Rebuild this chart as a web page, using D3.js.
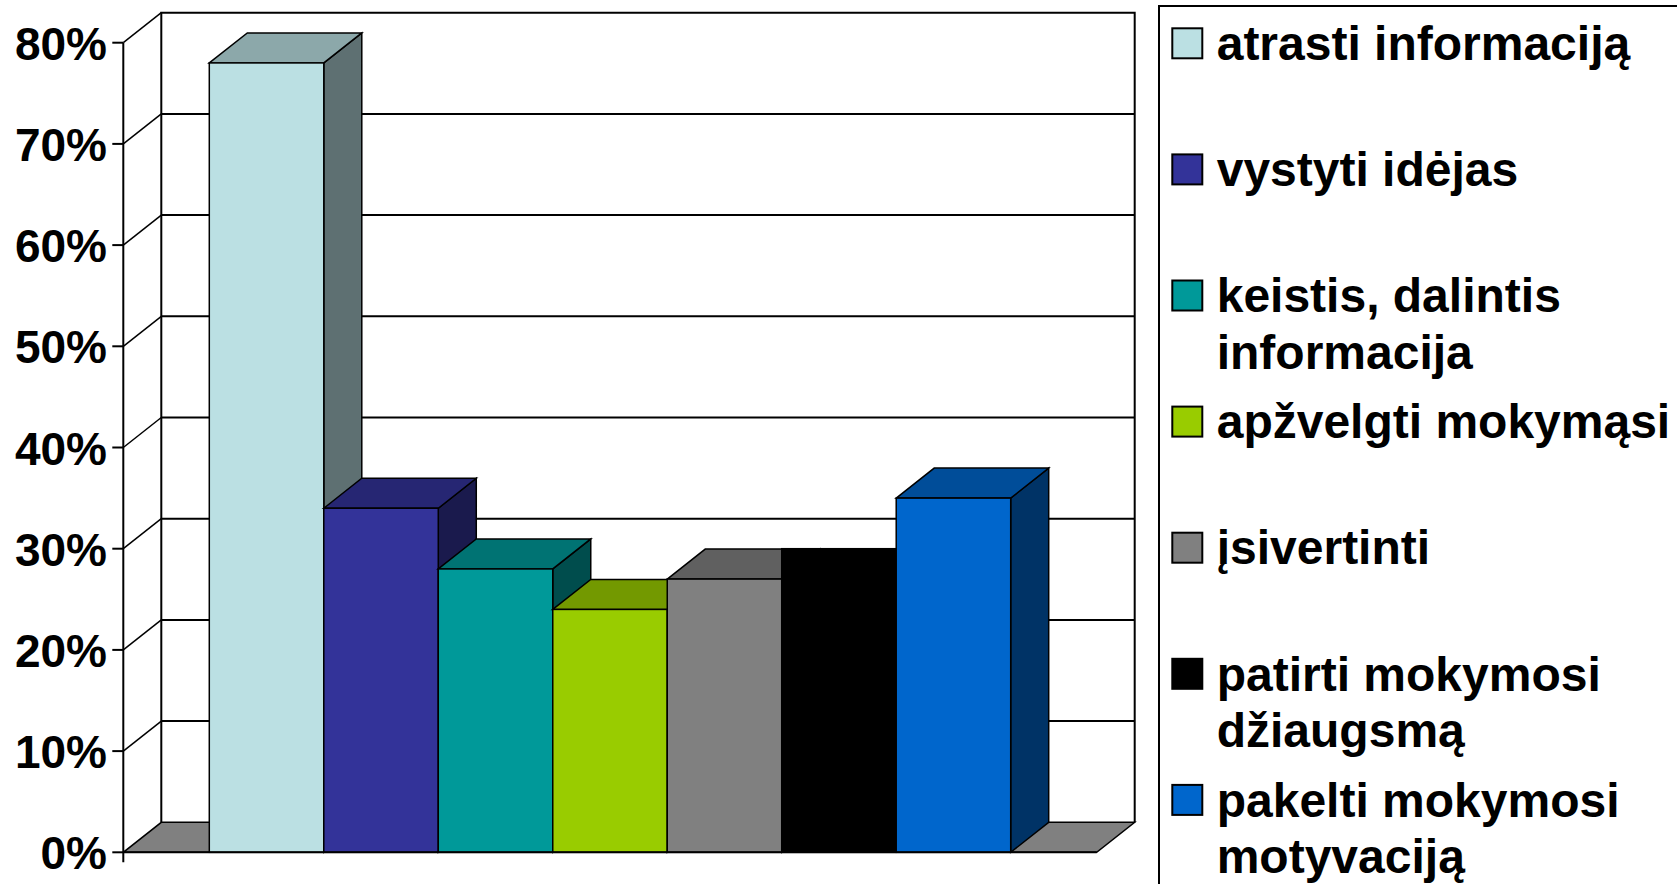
<!DOCTYPE html>
<html lang="lt">
<head>
<meta charset="utf-8">
<title>3D stulpelinė diagrama</title>
<style>
    html, body { margin: 0; padding: 0; background: #fff; }
    svg { display: block; }
    .lbl { font-family: "Liberation Sans", Arial, sans-serif; font-weight: bold; font-size: 46px; fill: #000; }
    .leg { font-size: 48px; }
</style>
</head>
<body>
<div id="chart"></div>
<script src="https://d3js.org/d3.v7.min.js"></script>
<script>
// data
var series = ["atrasti informaciją", "vystyti idėjas", "keistis, dalintis informacija",
              "apžvelgti mokymąsi", "įsivertinti", "patirti mokymosi džiaugsmą",
              "pakelti mokymosi motyvaciją"];
var legendLines = [["atrasti informaciją"], ["vystyti idėjas"], ["keistis, dalintis", "informacija"],
                   ["apžvelgti mokymąsi"], ["įsivertinti"], ["patirti mokymosi", "džiaugsmą"],
                   ["pakelti mokymosi", "motyvaciją"]];
var values = [0.78, 0.34, 0.28, 0.24, 0.27, 0.30, 0.35];
var colors = ["#BBE0E3", "#333399", "#009999", "#99CC00", "#808080", "#000000", "#0066CC"];
var ticks = [0, 0.1, 0.2, 0.3, 0.4, 0.5, 0.6, 0.7, 0.8];

var W = 1677, H = 884;
var front = {left: 123.3, right: 1096.7, bottom: 852.3, top: 42.7};
var dx = 38, dy = -30; // depth offset

var y = d3.scaleLinear().domain([0, 0.8]).range([front.bottom, front.top]);
var x = d3.scaleBand().domain(series).range([209.3, 1010.7]).padding(0);

var svg = d3.select("#chart").append("svg").attr("width", W).attr("height", H);

function shade(c, k) {
    var r = d3.rgb(c);
    return d3.rgb(r.r * k, r.g * k, r.b * k).formatHex();
}
function pts(a) { return a.map(function(p){ return p.join(","); }).join(" "); }

// back wall
var back = svg.append("g");
back.selectAll("line.grid")
    .data(ticks.slice(1, -1))
    .enter().append("line")
    .attr("x1", front.left + dx).attr("x2", front.right + dx)
    .attr("y1", function(d){ return y(d) + dy; })
    .attr("y2", function(d){ return y(d) + dy; })
    .attr("stroke", "#000").attr("stroke-width", 2);
back.append("polyline")
    .attr("points", pts([[front.left + dx, y(0) + dy], [front.left + dx, y(0.8) + dy],
                         [front.right + dx, y(0.8) + dy], [front.right + dx, y(0) + dy]]))
    .attr("fill", "none").attr("stroke", "#000").attr("stroke-width", 2);

// left side wall diagonals
back.selectAll("line.diag")
    .data(ticks.slice(1))
    .enter().append("line")
    .attr("x1", front.left).attr("x2", front.left + dx)
    .attr("y1", function(d){ return y(d); })
    .attr("y2", function(d){ return y(d) + dy; })
    .attr("stroke", "#000").attr("stroke-width", 1.5);

// floor
svg.append("polygon")
    .attr("points", pts([[front.left, y(0)], [front.right, y(0)],
                         [front.right + dx, y(0) + dy], [front.left + dx, y(0) + dy]]))
    .attr("fill", "#808080").attr("stroke", "#000").attr("stroke-width", 1.5);

// bars
var bars = svg.append("g");
series.forEach(function(s, i) {
    var x0 = x(s), x1 = x(s) + x.bandwidth(), yt = y(values[i]), yb = y(0);
    var c = colors[i];
    var g = bars.append("g");
    var flat = d3.hsl(c).l === 0;
    if (!flat) {
        g.append("polygon")
            .attr("points", pts([[x1, yt], [x1 + dx, yt + dy], [x1 + dx, yb + dy], [x1, yb]]))
            .attr("fill", shade(c, 0.5)).attr("stroke", "#000").attr("stroke-width", 1.5);
        g.append("polygon")
            .attr("points", pts([[x0, yt], [x0 + dx, yt + dy], [x1 + dx, yt + dy], [x1, yt]]))
            .attr("fill", shade(c, 0.75)).attr("stroke", "#000").attr("stroke-width", 1.5);
    }
    g.append("rect")
        .attr("x", x0).attr("y", yt).attr("width", x.bandwidth()).attr("height", yb - yt)
        .attr("fill", c).attr("stroke", "#000").attr("stroke-width", 1.5);
});

// front axis
var ax = svg.append("g");
ax.append("line")
    .attr("x1", front.left).attr("x2", front.left)
    .attr("y1", y(0.8)).attr("y2", y(0) + 10)
    .attr("stroke", "#000").attr("stroke-width", 2);
ax.append("line")
    .attr("x1", front.left).attr("x2", front.right)
    .attr("y1", y(0)).attr("y2", y(0))
    .attr("stroke", "#000").attr("stroke-width", 2);
ax.selectAll("line.tick")
    .data(ticks)
    .enter().append("line")
    .attr("x1", front.left - 11).attr("x2", front.left)
    .attr("y1", function(d){ return y(d); }).attr("y2", function(d){ return y(d); })
    .attr("stroke", "#000").attr("stroke-width", 2);
ax.selectAll("text")
    .data(ticks)
    .enter().append("text")
    .attr("class", "lbl")
    .attr("x", 107)
    .attr("y", function(d){ return y(d) + 17; })
    .attr("text-anchor", "end")
    .text(d3.format(".0%"));

// legend
var leg = svg.append("g");
leg.append("rect")
    .attr("x", 1159).attr("y", 6).attr("width", 600).attr("height", 950)
    .attr("fill", "#fff").attr("stroke", "#000").attr("stroke-width", 2);
var item = leg.selectAll("g.item")
    .data(series)
    .enter().append("g")
    .attr("transform", function(d, i){ return "translate(1172.3," + (28.3 + i * 126.1) + ")"; });
item.append("rect")
    .attr("width", 30).attr("height", 30)
    .attr("fill", function(d, i){ return colors[i]; })
    .attr("stroke", "#000").attr("stroke-width", 2);
item.append("text")
    .attr("class", "lbl leg")
    .attr("x", 44.4).attr("y", 31.7)
    .selectAll("tspan")
    .data(function(d, i){ return legendLines[i]; })
    .enter().append("tspan")
    .attr("x", 44.4)
    .attr("dy", function(d, j){ return j === 0 ? 0 : 56.7; })
    .text(function(d){ return d; });
</script>
</body>
</html>
